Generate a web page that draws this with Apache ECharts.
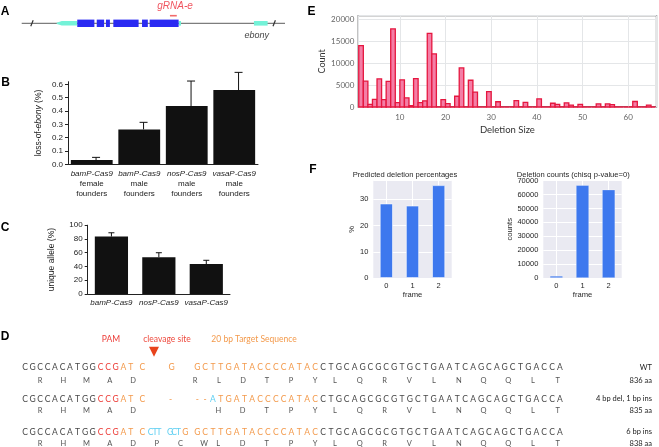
<!DOCTYPE html>
<html><head><meta charset="utf-8">
<script src="https://cdn.jsdelivr.net/npm/echarts@6/dist/echarts.min.js"></script>
<style>html,body{margin:0;padding:0;background:#fff}#c{width:659px;height:447px}</style>
</head><body><div id="c"></div>
<script>
// ---------------- DATA ----------------
// Panel A: ebony gene model (arbitrary gene coordinates 0-1000)
const geneSpan = [0, 1000];
const geneBreaks = [39, 959];
const geneUTRs = [[133, 211], [596, 605], [882, 934]];
const geneExons = [[211, 276], [285, 313], [320, 335], [348, 444], [457, 479], [486, 596]];
const gRNASite = [563, 589];

// Panel B: loss-of-ebony (%)
const bPromoters = ['bamP-Cas9', 'bamP-Cas9', 'nosP-Cas9', 'vasaP-Cas9'];
const bSex = ['female', 'male', 'male', 'male'];
const bValues = [0.032, 0.262, 0.437, 0.557];
const bErrors = [0.020, 0.053, 0.188, 0.133];
const bTicks = [0, 0.1, 0.2, 0.3, 0.4, 0.5, 0.6];

// Panel C: unique allele (%)
const cPromoters = ['bamP-Cas9', 'nosP-Cas9', 'vasaP-Cas9'];
const cValues = [83.5, 53.5, 43.5];
const cErrors = [5.5, 6.5, 5.5];

// Panel E: deletion size histogram
const delSizes = [1,2,3,4,5,6,7,8,9,10,11,12,13,14,15,16,17,18,19,20,21,22,23,24,25,26,27,28,29,30,31,32,33,34,35,36,37,38,39,40,41,42,43,44,45,46,47,48,49,50,51,52,53,54,55,56,57,58,59,60,61,62,63,64,65];
const delCounts = [14000,5900,600,1750,6400,1700,5850,17800,1000,6200,2100,300,6450,1000,1400,16800,12100,0,1700,750,0,2450,8900,0,6100,3400,0,0,3500,0,1200,0,0,0,1450,0,1050,0,0,1850,0,0,850,600,0,950,450,0,600,0,0,0,700,0,700,550,0,0,0,0,1250,0,0,450,0];
const eXTicks = [10, 20, 30, 40, 50, 60];

// Panel F
const frames = ['0', '1', '2'];
const predictedPct = [28.4, 27.6, 35.4];
const frameCounts = [1500, 66800, 63600];

// Panel D: sequences
const wtNt = 'CGCCACATGGCCGATCGGCTTGATACCCCATACCTGCAGCGCGTGCTGAATCAGCAGCTGACCA';
const rowLabels = ['WT', '4 bp del, 1 bp ins', '6 bp ins'];
const rowAaCounts = ['836 aa', '835 aa', '838 aa'];

// ---------------- CHART ----------------
const SANS = 'Liberation Sans';
const GILL = 'Lato';
const chart = echarts.init(document.getElementById('c'));

const geneData = [[geneSpan[0], geneSpan[1], 0]]
  .concat(geneUTRs.map((u, i) => [u[0], u[1], i === 0 ? 3 : 2]))
  .concat(geneExons.map(e => [e[0], e[1], 1]))
  .concat(geneBreaks.map(b => [b, b, 5]))
  .concat([[gRNASite[0], gRNASite[1], 4]]);

function geneRender(params, api) {
  const k = api.value(2);
  const a = api.coord([api.value(0), 0]);
  const b = api.coord([api.value(1), 0]);
  const u = api.size([0, 1])[1];
  if (k === 0) return {type: 'line', shape: {x1: a[0], y1: a[1], x2: b[0], y2: b[1]}, style: {stroke: '#7d7d7d', lineWidth: 1.3}};
  if (k === 1) return {type: 'rect', shape: {x: a[0], y: a[1] - 0.37 * u, width: b[0] - a[0], height: 0.74 * u}, style: {fill: '#2a2af2'}};
  if (k === 2) return {type: 'rect', shape: {x: a[0], y: a[1] - 0.23 * u, width: b[0] - a[0], height: 0.46 * u}, style: {fill: '#74f2d8'}};
  if (k === 3) {
    const h = 0.23 * u, t = 5;
    return {type: 'polygon', shape: {points: [[a[0], a[1] - 0.06 * u], [a[0] + t, a[1] - h], [b[0], a[1] - h], [b[0], a[1] + h], [a[0] + t, a[1] + h], [a[0], a[1] + 0.06 * u]]}, style: {fill: '#74f2d8'}};
  }
  if (k === 4) return {type: 'rect', shape: {x: a[0], y: a[1] - 0.76 * u - 0.8, width: b[0] - a[0], height: 1.6}, style: {fill: '#f26b6b'}};
  if (k === 5) return {type: 'line', shape: {x1: a[0] - 1.2, y1: a[1] + 3, x2: a[0] + 1.2, y2: a[1] - 3}, style: {stroke: '#333', lineWidth: 1.2}};
}

function errRender(capHalf, offset) {
  return function (params, api) {
    const base = api.coord([api.value(0), api.value(1)]);
    const top = api.coord([api.value(0), api.value(1) + api.value(2)]);
    const x = base[0] + offset;
    return {type: 'group', children: [
      {type: 'line', shape: {x1: x, y1: base[1], x2: x, y2: top[1]}, style: {stroke: '#111', lineWidth: 1}},
      {type: 'line', shape: {x1: x - capHalf, y1: top[1], x2: x + capHalf, y2: top[1]}, style: {stroke: '#111', lineWidth: 1}}
    ]};
  };
}

function histRender(params, api) {
  const n = api.value(0), v = api.value(1);
  const p0 = api.coord([n, v]);
  const p1 = api.coord([n + 1, 0]);
  return {type: 'rect', shape: {x: p0[0], y: p0[1], width: p1[0] - p0[0], height: p1[1] - p0[1]},
    style: {fill: '#f47ea6', stroke: '#e5173f', lineWidth: 1.3}};
}

const bRich = {
  i: {fontStyle: 'italic', fontSize: 8, fontFamily: SANS, color: '#222', lineHeight: 9.6},
  n: {fontSize: 8, fontFamily: SANS, color: '#222', lineHeight: 9.6}
};

// ---------- graphic (panel letters, labels, panel D) ----------
const graphics = [];
function addText(s, x, y, style) {
  graphics.push({type: 'text', x: x, y: y, silent: true,
    style: Object.assign({text: s, align: 'center', verticalAlign: 'middle', fill: '#222', font: '8px ' + SANS}, style)});
}
[['A', 5, 11.5], ['B', 5.5, 83], ['C', 5, 228], ['D', 5, 337], ['E', 311.5, 11.5], ['F', 313, 170]].forEach(p =>
  addText(p[0], p[1], p[2], {font: 'bold 12px ' + SANS, fill: '#000'}));
addText('gRNA-e', 175, 6.5, {font: 'italic 10px ' + SANS, fill: '#f05560'});
addText('ebony', 256.7, 35, {font: 'italic 9px ' + SANS, fill: '#444'});
addText('Predicted deletion percentages', 405, 175, {font: '7.6px ' + SANS, fill: '#262626'});
addText('Deletion counts (chisq p-value=0)', 573.3, 175, {font: '7.6px ' + SANS, fill: '#262626'});

// Panel D
const COL = {g: '#484848', r: '#ec3b36', o: '#f39a4c', c: '#5fcff2'};
addText('PAM', 111, 339, {font: '8.5px ' + GILL, fill: COL.r});
addText('cleavage site', 167, 339, {font: '8.5px ' + GILL, fill: '#ee4a3e'});
addText('20 bp Target Sequence', 254, 339, {font: '8.5px ' + GILL, fill: COL.o});
graphics.push({type: 'polygon', silent: true, shape: {points: [[149, 346.7], [159, 346.7], [154, 356.7]]}, style: {fill: '#e8431c'}});

function seg(str, x0, step, y, color, size) {
  for (let i = 0; i < str.length; i++) {
    addText(str[i], x0 + i * step, y, {font: size + 'px ' + GILL, fill: color});
  }
}
const head = wtNt.slice(0, 10), pam = wtNt.slice(10, 13), at = wtNt.slice(13, 15), cut = wtNt.slice(15, 16);
const gOne = wtNt.slice(16, 17), target = wtNt.slice(17, 33), tail = wtNt.slice(33);
const ntY = [367.7, 399, 432], aaY = [380.3, 411, 444];
for (let r = 0; r < 3; r++) {
  const y = ntY[r];
  seg(head, 25, 7.5, y, COL.g, 8.5);
  seg(pam, 100.7, 7.5, y, COL.r, 8.5);
  seg(at, 123.3, 7.4, y, COL.o, 8.5);
  seg(cut, 142.3, 0, y, COL.o, 8.5);
  seg(tail, 323, 7.9, y, COL.g, 8.5);
}
seg(gOne, 171.7, 0, ntY[0], COL.o, 8.5);
seg(target, 197.3, 7.85, ntY[0], COL.o, 8.5);
seg('-', 170.5, 0, ntY[1], COL.o, 8.5);
seg('--', 197.3, 7.85, ntY[1], COL.o, 8.5);
seg('A', 213, 0, ntY[1], COL.c, 8.5);
seg(target.slice(3), 220.85, 7.85, ntY[1], COL.o, 8.5);
seg('CTT', 150.7, 4.2, ntY[2], COL.c, 8.5);
seg('GCT', 170, 4.2, ntY[2], COL.c, 8.5);
seg(gOne, 185.3, 0, ntY[2], COL.o, 8.5);
seg(target, 197.3, 7.85, ntY[2], COL.o, 8.5);

const aaCol = '#555';
for (let r = 0; r < 3; r++) {
  seg('RHMAD', 40, 23.3, aaY[r], aaCol, 7.5);
  seg('LQRVLNQQLT', 335, 24.75, aaY[r], aaCol, 7.5);
}
seg('RLDTPY', 195, 24, aaY[0], aaCol, 7.5);
seg('HDTPY', 218.3, 24.2, aaY[1], aaCol, 7.5);
seg('PCW', 156.7, 23.7, aaY[2], aaCol, 7.5);
seg('LDTPY', 218.3, 24.2, aaY[2], aaCol, 7.5);
for (let r = 0; r < 3; r++) {
  addText(rowLabels[r], 652, ntY[r], {font: '7.5px ' + GILL, fill: '#222', align: 'right'});
  addText(rowAaCounts[r], 652, aaY[r], {font: '7.5px ' + GILL, fill: '#222', align: 'right'});
}

const seabornGrid = {show: true, backgroundColor: '#eaeaf2', borderWidth: 0, containLabel: false};

const option = {
  animation: false,
  backgroundColor: '#fff',
  grid: [
    {left: 21.7, top: 13.3, width: 263.3, height: 20, containLabel: false},
    {left: 68, top: 81.7, width: 190, height: 82.6, containLabel: false},
    {left: 87.7, top: 225.2, width: 142.3, height: 68.8, containLabel: false},
    {left: 358.3, top: 15.7, width: 298.2, height: 91.3, show: true, borderColor: '#555', borderWidth: 1.3, backgroundColor: 'transparent', containLabel: false},
    Object.assign({left: 373.3, top: 180.5, width: 78.4, height: 97.5}, seabornGrid),
    Object.assign({left: 543.3, top: 180.5, width: 78.4, height: 97.5}, seabornGrid)
  ],
  xAxis: [
    {gridIndex: 0, type: 'value', min: geneSpan[0], max: geneSpan[1], show: false},
    {gridIndex: 1, type: 'category', data: bPromoters.map((p, i) => p + '|' + bSex[i]),
      axisLine: {lineStyle: {color: '#222', width: 1}}, axisTick: {length: 3, lineStyle: {color: '#222'}},
      axisLabel: {margin: 5, interval: 0, formatter: v => { const s = v.split('|'); return '{i|' + s[0] + '}\n{n|' + s[1] + '}\n{n|founders}'; }, rich: bRich}},
    {gridIndex: 2, type: 'category', data: cPromoters,
      axisLine: {lineStyle: {color: '#222', width: 1}}, axisTick: {length: 3, lineStyle: {color: '#222'}},
      axisLabel: {margin: 4, interval: 0, formatter: v => '{i|' + v + '}', rich: bRich}},
    {gridIndex: 3, type: 'value', min: 0.9, max: 66.2,
      axisLine: {show: false}, axisTick: {show: false},
      splitLine: {show: true, lineStyle: {color: '#e4e6e8', width: 1}},
      axisLabel: {customValues: eXTicks, color: '#666', fontSize: 8, fontFamily: GILL, margin: 6},
      name: 'Deletion Size', nameLocation: 'middle', nameGap: 18, nameTextStyle: {fontSize: 9.5, color: '#333', fontFamily: GILL}},
    {gridIndex: 4, type: 'category', data: frames, axisLine: {show: false}, axisTick: {show: false, alignWithLabel: true},
      splitLine: {show: true, alignWithLabel: true, lineStyle: {color: '#fff', width: 1}},
      axisLabel: {color: '#262626', fontSize: 7.5, fontFamily: SANS, margin: 4},
      name: 'frame', nameLocation: 'middle', nameGap: 12.5, nameTextStyle: {fontSize: 7.6, color: '#262626', fontFamily: SANS}},
    {gridIndex: 5, type: 'category', data: frames, axisLine: {show: false}, axisTick: {show: false, alignWithLabel: true},
      splitLine: {show: true, alignWithLabel: true, lineStyle: {color: '#fff', width: 1}},
      axisLabel: {color: '#262626', fontSize: 7.5, fontFamily: SANS, margin: 4},
      name: 'frame', nameLocation: 'middle', nameGap: 12.5, nameTextStyle: {fontSize: 7.6, color: '#262626', fontFamily: SANS}}
  ],
  yAxis: [
    {gridIndex: 0, type: 'value', min: -1, max: 1, show: false},
    {gridIndex: 1, type: 'value', min: 0, max: 0.62, interval: 0.1,
      axisLine: {show: true, lineStyle: {color: '#222', width: 1}},
      axisTick: {show: true, length: 3, customValues: bTicks, lineStyle: {color: '#222'}},
      splitLine: {show: false},
      axisLabel: {customValues: bTicks, formatter: v => v.toFixed(1), color: '#222', fontSize: 8, fontFamily: SANS, margin: 5},
      name: '{n|loss-of-}{i|ebony}{n| (%)}', nameLocation: 'middle', nameGap: 24.5,
      nameTextStyle: {rich: {i: {fontStyle: 'italic', fontSize: 8.5, fontFamily: SANS, color: '#222'}, n: {fontSize: 8.5, fontFamily: SANS, color: '#222'}}}},
    {gridIndex: 2, type: 'value', min: 0, max: 100, interval: 20,
      axisLine: {show: true, lineStyle: {color: '#222', width: 1}},
      axisTick: {show: true, length: 3, lineStyle: {color: '#222'}},
      splitLine: {show: false},
      axisLabel: {color: '#222', fontSize: 8, fontFamily: SANS, margin: 5},
      name: 'unique allele (%)', nameLocation: 'middle', nameGap: 31.7, nameTextStyle: {fontSize: 8.5, fontFamily: SANS, color: '#222'}},
    {gridIndex: 3, type: 'value', min: 0, max: 20820, interval: 5000,
      axisLine: {show: false}, axisTick: {show: false},
      splitLine: {show: true, lineStyle: {color: '#e4e6e8', width: 1}},
      axisLabel: {formatter: v => (v % 5000 === 0 ? String(v) : ''), color: '#666', fontSize: 8, fontFamily: GILL, margin: 4},
      name: 'Count', nameLocation: 'middle', nameGap: 31.8, nameTextStyle: {fontSize: 9, color: '#333', fontFamily: GILL}},
    {gridIndex: 4, type: 'value', min: 0, max: 37.2, interval: 10,
      axisLine: {show: false}, axisTick: {show: false},
      splitLine: {show: true, lineStyle: {color: '#fff', width: 1}},
      axisLabel: {formatter: v => (v % 10 === 0 ? String(v) : ''), color: '#262626', fontSize: 7.5, fontFamily: SANS, margin: 5},
      name: '%', nameLocation: 'middle', nameGap: 16, nameTextStyle: {fontSize: 7.6, color: '#262626', fontFamily: SANS}},
    {gridIndex: 5, type: 'value', min: 0, max: 70140, interval: 10000,
      axisLine: {show: false}, axisTick: {show: false},
      splitLine: {show: true, lineStyle: {color: '#fff', width: 1}},
      axisLabel: {formatter: v => (v % 10000 === 0 ? String(v) : ''), color: '#262626', fontSize: 7.5, fontFamily: SANS, margin: 5},
      name: 'counts', nameLocation: 'middle', nameGap: 27.8, nameTextStyle: {fontSize: 7.6, color: '#262626', fontFamily: SANS}}
  ],
  series: [
    {type: 'custom', xAxisIndex: 0, yAxisIndex: 0, data: geneData, encode: {x: [0, 1], y: 2}, renderItem: geneRender, silent: true, clip: false},
    {type: 'bar', xAxisIndex: 1, yAxisIndex: 1, data: bValues, barWidth: '88%', itemStyle: {color: '#111'}, silent: true},
    {type: 'custom', xAxisIndex: 1, yAxisIndex: 1, data: bValues.map((v, i) => [i, v, bErrors[i]]), encode: {x: 0, y: [1, 2]}, renderItem: errRender(4, 4.3), silent: true, clip: false, z: 5},
    {type: 'bar', xAxisIndex: 2, yAxisIndex: 2, data: cValues, barWidth: '70%', itemStyle: {color: '#111'}, silent: true},
    {type: 'custom', xAxisIndex: 2, yAxisIndex: 2, data: cValues.map((v, i) => [i, v, cErrors[i]]), encode: {x: 0, y: [1, 2]}, renderItem: errRender(3, 0), silent: true, clip: false, z: 5},
    {type: 'custom', xAxisIndex: 3, yAxisIndex: 3, data: delSizes.map((n, i) => [n, delCounts[i]]), encode: {x: 0, y: 1}, renderItem: histRender, silent: true, clip: false},
    {type: 'bar', xAxisIndex: 4, yAxisIndex: 4, data: predictedPct, barWidth: '50%', itemStyle: {color: '#3d78ee', borderColor: 'rgba(255,255,255,0.7)', borderWidth: 0.8}, silent: true},
    {type: 'bar', xAxisIndex: 5, yAxisIndex: 5, data: frameCounts, barWidth: '50%', itemStyle: {color: '#3d78ee', borderColor: 'rgba(255,255,255,0.5)', borderWidth: 0.6}, silent: true}
  ],
  graphic: graphics
};
chart.setOption(option);
</script>
</body></html>
